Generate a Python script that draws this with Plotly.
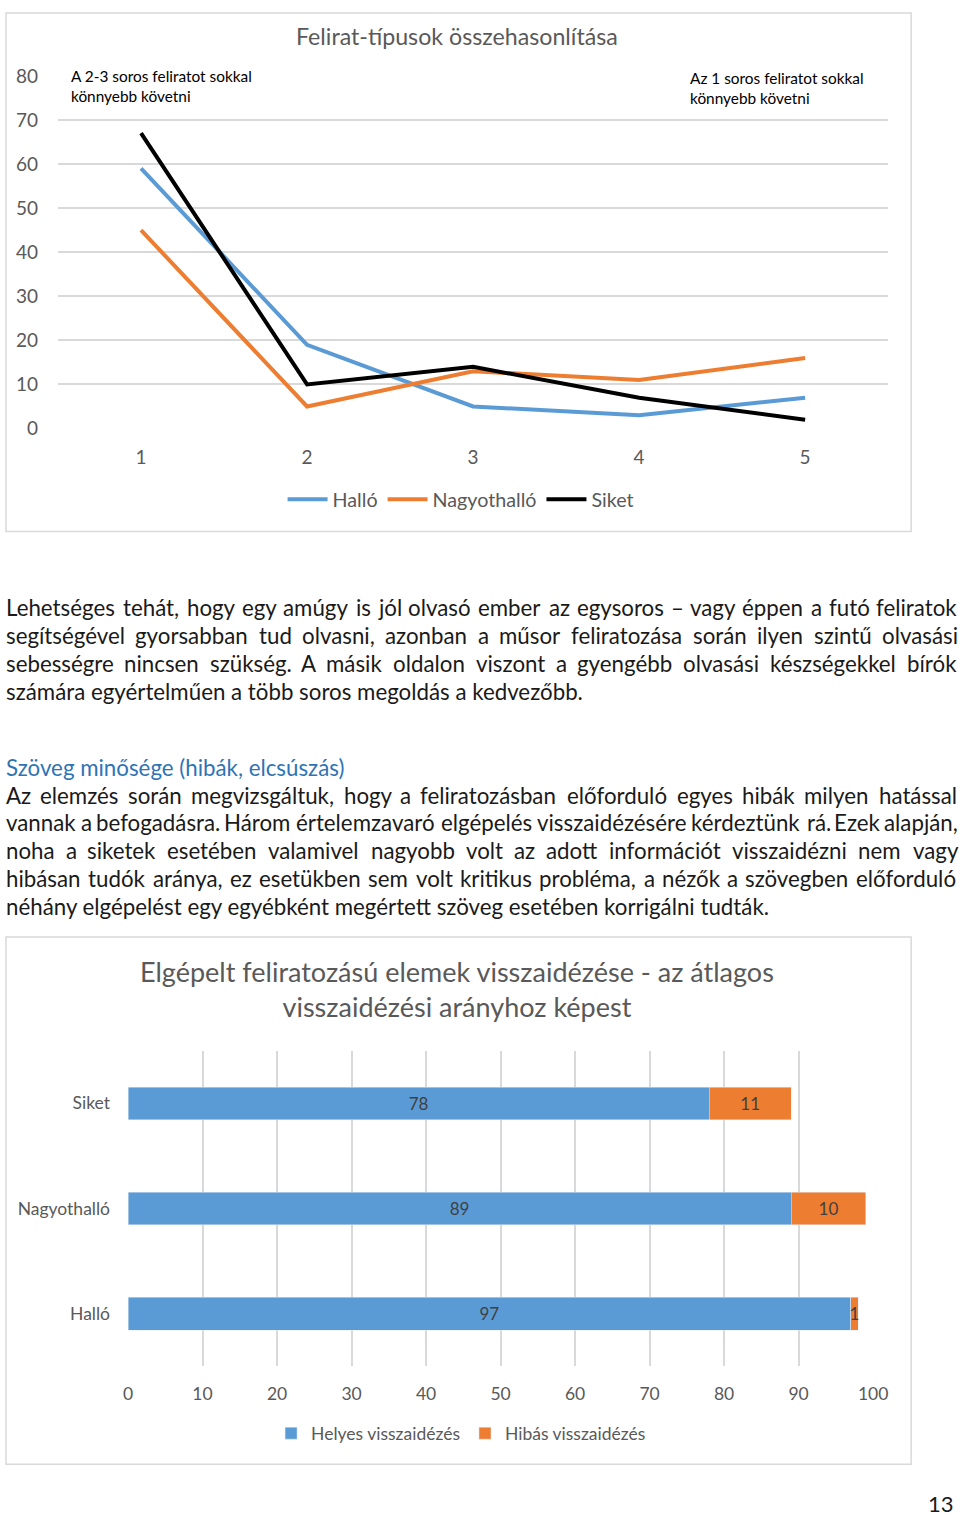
import plotly.graph_objects as go

W, H = 960, 1516

# --- line chart data ---
steps = [1, 2, 3, 4, 5]
hallo = [59, 19, 5, 3, 7]
nagyothallo = [45, 5, 13, 11, 16]
siket = [67, 10, 14, 7, 2]

# --- bar chart data ---
groups = ["Halló", "Nagyothalló", "Siket"]
helyes = [97, 89, 78]
hibas = [1, 10, 11]

x_ticks = [0, 10, 20, 30, 40, 50, 60, 70, 80, 90, 100]
y_ticks = [0, 10, 20, 30, 40, 50, 60, 70, 80]

BLUE = "#5B9BD5"
ORANGE = "#ED7D31"
GRAY = "#595959"
GRID = "#D9D9D9"
CHART_FONT = "Lato, 'Open Sans', sans-serif"
BODY_FONT = "Lato, 'Open Sans', sans-serif"

# the snapshot comes out slightly shrunk and shifted, so positions are
# given in page pixels and mapped back here
OX, OY, SX, SY = 5, 12, 0.979, 0.986


def px_x(x):
    return ((x - OX) / SX) / W


def px_y(y):
    return 1 - ((y - OY) / SY) / H


fig = go.Figure()

# line chart
for name, vals, col in [("Halló", hallo, BLUE),
                        ("Nagyothalló", nagyothallo, ORANGE),
                        ("Siket", siket, "black")]:
    fig.add_trace(go.Scatter(
        x=steps, y=vals, name=name, mode="lines",
        line=dict(color=col, width=4),
        xaxis="x", yaxis="y", legend="legend",
    ))

# bar chart
for name, vals, col in [("Helyes visszaidézés", helyes, BLUE),
                        ("Hibás visszaidézés", hibas, ORANGE)]:
    fig.add_trace(go.Bar(
        y=groups, x=vals, orientation="h", name=name,
        marker=dict(color=col), width=0.31,
        text=vals, textposition="inside", insidetextanchor="middle",
        textfont=dict(color="#404040", size=17, family=CHART_FONT),
        xaxis="x2", yaxis="y2", legend="legend2",
    ))

shapes = [
    dict(type="rect", xref="paper", yref="paper",
         x0=px_x(6), x1=px_x(911), y0=px_y(532), y1=1 - 1 / H,
         line=dict(color=GRID, width=1.5), fillcolor="rgba(0,0,0,0)", layer="below"),
    dict(type="rect", xref="paper", yref="paper",
         x0=px_x(6), x1=px_x(911), y0=px_y(1466), y1=px_y(938),
         line=dict(color=GRID, width=1.5), fillcolor="rgba(0,0,0,0)", layer="below"),
]

annotations = []


def note(text, x, y, size, color="#1a1a1a", xanchor="left", family=BODY_FONT):
    annotations.append(dict(
        text=text, x=px_x(x), y=px_y(y), xref="paper", yref="paper",
        xanchor=xanchor, yanchor="middle", showarrow=False,
        font=dict(size=size, color=color, family=family),
        align="center" if xanchor == "center" else xanchor,
    ))


# rough advance widths (em) for Lato, used to justify body text
CW = dict(a=.49, b=.56, c=.46, d=.56, e=.52, f=.32, g=.50, h=.56, i=.24, j=.24, k=.50,
          l=.24, m=.84, n=.56, o=.55, p=.55, q=.56, r=.36, s=.41, t=.35, u=.56, v=.50,
          w=.77, x=.48, y=.50, z=.44)
CW.update({",": .19, ".": .19, "–": .55, "-": .33, "(": .30, ")": .30, " ": .19,
           "A": .66, "H": .74, "E": .55, "L": .52, "S": .50})
BASE = str.maketrans("áéíóöőúüű", "aeiooouuu")


def word_width(w, size):
    # rendered width in page pixels
    return SX * 1.05 * sum(CW.get(ch.translate(BASE), .6) for ch in w) * size


def justified(line, y, size, x0=4, x1=956):
    words = line.split(" ")
    widths = [word_width(w, size) for w in words]
    gap = (x1 - x0 - sum(widths)) / (len(words) - 1)
    x = x0
    for w, ww in zip(words, widths):
        note(w, x, y, size)
        x += ww + gap


# chart titles / notes
note("Felirat-típusok összehasonlítása", 457, 36, 23.2, GRAY, "center", CHART_FONT)
note("A 2-3 soros feliratot sokkal<br>könnyebb követni", 69, 86, 15.4, "black", "left", CHART_FONT)
note("Az 1 soros feliratot sokkal<br>könnyebb követni", 688, 88, 15.4, "black", "left", CHART_FONT)
note("Elgépelt feliratozású elemek visszaidézése - az átlagos<br>visszaidézési arányhoz képest",
     457, 990, 27, GRAY, "center", CHART_FONT)

# body text
para1 = [
    "Lehetséges tehát, hogy egy amúgy is jól olvasó ember az egysoros – vagy éppen a futó feliratok",
    "segítségével gyorsabban tud olvasni, azonban a műsor feliratozása során ilyen szintű olvasási",
    "sebességre nincsen szükség. A másik oldalon viszont a gyengébb olvasási készségekkel bírók",
    "számára egyértelműen a több soros megoldás a kedvezőbb.",
]
para2 = [
    "Az elemzés során megvizsgáltuk, hogy a feliratozásban előforduló egyes hibák milyen hatással",
    "vannak a befogadásra. Három értelemzavaró elgépelés visszaidézésére kérdeztünk rá. Ezek alapján,",
    "noha a siketek esetében valamivel nagyobb volt az adott információt visszaidézni nem vagy",
    "hibásan tudók aránya, ez esetükben sem volt kritikus probléma, a nézők a szövegben előforduló",
    "néhány elgépelést egy egyébként megértett szöveg esetében korrigálni tudták.",
]
BODY = 22.3
for i, line in enumerate(para1):
    y = 608 + i * 28
    if i < len(para1) - 1:
        justified(line, y, BODY)
    else:
        note(line, 4, y, BODY)
note("Szöveg minősége (hibák, elcsúszás)", 4, 768, BODY, "#2E74B5")
for i, line in enumerate(para2):
    y = 796 + i * 27.8
    if i < len(para2) - 1:
        justified(line, y, BODY)
    else:
        note(line, 4, y, BODY)
note("13", 956, 1505, 22, "#1a1a1a", "right")

fig.update_layout(
    width=W, height=H,
    margin=dict(l=0, r=0, t=0, b=0),
    paper_bgcolor="white", plot_bgcolor="white",
    font=dict(family=CHART_FONT, color=GRAY),
    barmode="stack",
    hovermode=False,
    uniformtext=dict(minsize=17, mode="show"),
    shapes=shapes,
    annotations=annotations,
    xaxis=dict(domain=[px_x(58), px_x(888)], range=[0.5, 5.5],
               tickvals=steps, showgrid=False, zeroline=False, showline=False,
               tickfont=dict(size=19, color=GRAY), ticklabelstandoff=15,
               anchor="y"),
    yaxis=dict(domain=[px_y(429), px_y(76)], range=[0, 80],
               tickvals=y_ticks, showgrid=True, gridcolor=GRID, gridwidth=1.5,
               zeroline=False, showline=False,
               tickfont=dict(size=19, color=GRAY), ticklabelstandoff=19,
               anchor="x"),
    xaxis2=dict(domain=[px_x(128), px_x(873)], range=[0, 100],
                tickvals=x_ticks, showgrid=True, gridcolor=GRID, gridwidth=1.5,
                zeroline=False, showline=False,
                tickfont=dict(size=17.5, color=GRAY), ticklabelstandoff=15,
                anchor="y2"),
    yaxis2=dict(domain=[px_y(1368), px_y(1052)], range=[-0.5, 2.5],
                showgrid=False, zeroline=False, showline=False,
                tickfont=dict(size=17.5, color=GRAY), ticklabelstandoff=17,
                anchor="x2"),
    legend=dict(orientation="h", x=px_x(461), xanchor="center", y=px_y(500), yanchor="middle",
                font=dict(size=19.7, color=GRAY), bgcolor="rgba(0,0,0,0)", itemwidth=40),
    legend2=dict(orientation="h", x=px_x(461), xanchor="center", y=px_y(1435), yanchor="middle",
                 traceorder="normal",
                 font=dict(size=17.5, color=GRAY), bgcolor="rgba(0,0,0,0)"),
)

fig.write_html(
    "out.html",
    config={"displayModeBar": False},
    post_script="document.body.style.margin='0';"
                "document.body.style.overflow='hidden';"
                "document.documentElement.style.overflow='hidden';",
)
